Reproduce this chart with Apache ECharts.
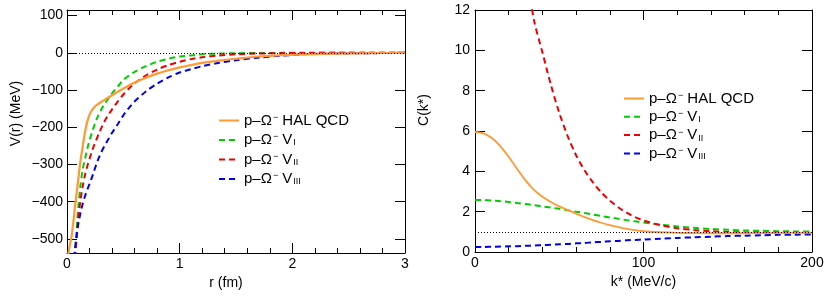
<!DOCTYPE html>
<html><head><meta charset="utf-8">
<script src="https://cdn.jsdelivr.net/npm/echarts@6/dist/echarts.min.js"></script>
<style>html,body{margin:0;padding:0;background:#fff}#c{width:830px;height:302px}</style>
</head><body><div id="c"></div>
<script>
// ---- Left panel: V(r) ----
const rValues = [0.01,0.02,0.03,0.04,0.05,0.06,0.07,0.08,0.09,0.10,0.12,0.14,0.16,0.18,0.20,0.22,0.24,0.26,0.28,0.30,0.33,0.36,0.40,0.45,0.50,0.55,0.60,0.70,0.80,0.90,1.00,1.10,1.20,1.35,1.50,1.70,1.90,2.10,2.40,2.70,3.00];
const vHAL  = [-545,-525,-510,-495,-470,-445,-415,-390,-365,-340,-290,-250,-213,-185,-166,-155,-147,-141,-137,-133,-127,-121,-114,-105,-96,-88,-80,-67,-56,-47,-39,-33,-27,-21,-16,-10,-6,-4,-2,-1,0];
const vI    = [-900,-850,-800,-750,-700,-600,-545,-500,-455,-415,-355,-312,-285,-258,-235,-216,-197,-181,-167,-155,-139,-126,-109,-91,-73,-61,-51,-36,-24,-16,-10,-7,-4,-2,-1,-0.5,-0.2,0,0,0,0];
const vII   = [-900,-850,-800,-750,-700,-600,-560,-520,-480,-445,-395,-358,-328,-305,-285,-266,-249,-234,-219,-205,-186,-170,-152,-131,-112,-96,-82,-61,-45,-33,-24,-17,-12,-7,-4,-2,-1,-0.5,0,0,0];
const vIII  = [-900,-850,-800,-700,-600,-560,-530,-505,-482,-460,-430,-405,-385,-368,-352,-336,-318,-300,-284,-270,-252,-236,-215,-192,-168,-148,-131,-104,-83,-66,-53,-44,-36,-27,-20,-13,-8,-4,-2,-1,0];
// ---- Right panel: C(k*) ----
const kValues = [0,5,10,15,20,25,30,35,40,45,50,55,60,65,70,75,80,85,90,95,100,110,120,130,140,150,160,170,180,190,200];
const cHAL  = [5.95,5.88,5.65,5.25,4.72,4.12,3.55,3.08,2.74,2.48,2.26,2.08,1.9,1.73,1.58,1.45,1.33,1.23,1.15,1.08,1.03,0.98,0.95,0.94,0.93,0.93,0.93,0.94,0.94,0.95,0.96];
const cI    = [2.58,2.57,2.55,2.52,2.48,2.43,2.38,2.32,2.26,2.2,2.14,2.07,2.0,1.93,1.86,1.78,1.71,1.65,1.58,1.52,1.46,1.36,1.27,1.2,1.14,1.1,1.07,1.05,1.03,1.02,1.01];
const cII   = [null,null,null,null,null,null,14.0,11.5,9.9,8.3,6.9,5.75,4.8,4.05,3.45,2.95,2.55,2.22,1.95,1.73,1.56,1.33,1.18,1.09,1.03,0.99,0.97,0.96,0.95,0.95,0.95];
const cIII  = [0.25,0.25,0.26,0.27,0.28,0.29,0.31,0.32,0.34,0.36,0.38,0.4,0.43,0.45,0.48,0.5,0.53,0.55,0.58,0.6,0.62,0.66,0.7,0.73,0.76,0.79,0.81,0.83,0.85,0.86,0.87];
const legendNames = {HAL:'HAL QCD', I:'I', II:'II', III:'III'};

const FONT = "'Liberation Sans', Arial, Helvetica, sans-serif";
const colors = {HAL:'#ff9933', I:'#00cc00', II:'#ee0000', III:'#0000ee'};
const minus = v => String(v).replace('-', '\u2212');

function xAx(grid, min, max, interval, pos, labels, name, namePad) {
  return {
    type:'value', gridIndex:grid, position:pos, min, max, interval,
    axisLine:{show:true, onZero:false, lineStyle:{color:'#000', width:1}},
    axisTick:{show:true, inside:true, length:10, lineStyle:{color:'#000', width:1}},
    minorTick:{show:true, splitNumber:5, length:5, lineStyle:{color:'#000', width:1}},
    splitLine:{show:false},
    axisLabel:{show:labels, color:'#000', fontSize:14, fontFamily:FONT, margin:4, formatter:minus,
               hideOverlap:false, showMinLabel:true, showMaxLabel:true},
    name: name || '', nameLocation:'middle', nameGap:21,
    nameTextStyle:{color:'#000', fontSize:14, fontFamily:FONT, padding:namePad || 0}
  };
}
function yAx(grid, min, max, interval, pos, labels, name, extra, namePad, hideEnds, margin) {
  const o = {
    type:'value', gridIndex:grid, position:pos, min, max,
    axisLine:{show:true, onZero:false, lineStyle:{color:'#000', width:1}},
    axisTick:{show:true, inside:true, length:10, lineStyle:{color:'#000', width:1}},
    splitLine:{show:false},
    axisLabel:{show:labels, color:'#000', fontSize:14, fontFamily:FONT, margin:margin || 4, formatter:minus,
               lineHeight:12, hideOverlap:false, showMinLabel:!hideEnds, showMaxLabel:!hideEnds},
    name: name || '', nameLocation:'middle', nameGap:44, nameRotate:90,
    nameTextStyle:{color:'#000', fontSize:14, fontFamily:FONT, padding:namePad || 0}
  };
  if (interval) o.interval = interval;
  return Object.assign(o, extra || {});
}

function lineSeries(id, xs, ys, xi, yi, type, width) {
  const c = colors[id.replace(/[LR]$/,'')];
  return {
    type:'line', name:id, xAxisIndex:xi, yAxisIndex:yi,
    data: xs.map((x,i)=>[x, ys[i]]),
    showSymbol:false, symbol:'none', smooth:0.3, clip:true, connectNulls:false,
    lineStyle:{color:c, width, type},
    itemStyle:{color:c},
    z: id.startsWith('HAL') ? 3 : 2
  };
}
const dash = [6,4];

const rich = {
  t:{fontSize:15, fontFamily:FONT, color:'#000'},
  sup:{fontSize:9, fontFamily:FONT, color:'#000', verticalAlign:'top', padding:[0,0,0,1]},
  sub:{fontSize:9, fontFamily:FONT, color:'#000', verticalAlign:'bottom', padding:[6,0,0,1]}
};
function legendFmt(n) {
  const key = n.replace(/[LR]$/,'');
  if (key === 'HAL') return '{t|p\u2013\u03a9}{sup|\u2212}{t| HAL QCD}';
  return '{t|p\u2013\u03a9}{sup|\u2212}{t| V}{sub|' + legendNames[key] + '}';
}
const legendCommon = {
  orient:'vertical', padding:0, itemWidth:20, itemHeight:12, itemStyle:{opacity:0},
  formatter:legendFmt, textStyle:{rich, fontSize:15, fontFamily:FONT, padding:[0,0,0,0]}, selectedMode:false
};

const opt = {
  animation:false,
  backgroundColor:'#fff',
  grid:[
    {left:67, top:10, width:338, height:243},
    {left:475, top:10, width:337, height:242}
  ],
  xAxis:[
    xAx(0, 0, 3, 1, 'bottom', true, 'r (fm)', [0,20,0,0]),
    xAx(0, 0, 3, 1, 'top', false),
    xAx(1, 0, 200, 100, 'bottom', true, 'k* (MeV/c)'),
    xAx(1, 0, 200, 100, 'top', false)
  ],
  yAxis:[
    yAx(0, -538, 115, null, 'left', true, 'V(r) (MeV)', {splitNumber:7}, [0,0,0,36], true, 4),
    yAx(0, -538, 115, null, 'right', false, '', {splitNumber:7}, 0, true),
    yAx(1, 0, 12, 2, 'left', true, 'C(k*)', null, [0,0,0,42], false, 5),
    yAx(1, 0, 12, 2, 'right', false, '', null, 0, false)
  ],
  legend:[
    Object.assign({data:['HALL','IL','IIL','IIIL'], left:218, top:113, itemGap:4.5}, legendCommon),
    Object.assign({data:['HALR','IR','IIR','IIIR'], left:623, top:91, itemGap:3.3}, legendCommon)
  ],
  series:[
    Object.assign(lineSeries('HALL', rValues, vHAL, 0, 0, 'solid', 2.2), {
      markLine:{silent:true, symbol:'none', label:{show:false}, lineStyle:{color:'#000', type:[1,2], width:1}, data:[{yAxis:0}]}
    }),
    lineSeries('IL', rValues, vI, 0, 0, dash, 2),
    lineSeries('IIL', rValues, vII, 0, 0, dash, 2),
    lineSeries('IIIL', rValues, vIII, 0, 0, dash, 2),
    Object.assign(lineSeries('HALR', kValues, cHAL, 2, 2, 'solid', 1.8), {
      markLine:{silent:true, symbol:'none', label:{show:false}, lineStyle:{color:'#000', type:[1,2], width:1}, data:[{yAxis:1}]}
    }),
    lineSeries('IR', kValues, cI, 2, 2, dash, 2),
    lineSeries('IIR', kValues, cII, 2, 2, dash, 2),
    lineSeries('IIIR', kValues, cIII, 2, 2, dash, 2)
  ]
};
const chart = echarts.init(document.getElementById('c'), null, {renderer:'canvas'});
chart.setOption(opt);
</script>
</body></html>
